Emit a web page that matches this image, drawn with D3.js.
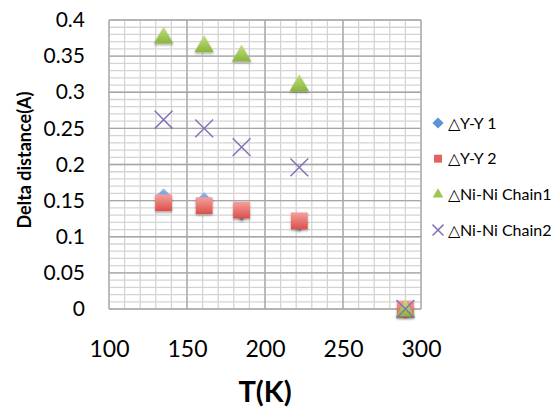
<!DOCTYPE html>
<html>
<head>
<meta charset="utf-8">
<script src="https://cdn.jsdelivr.net/npm/d3@7"></script>
<style>
	body { margin: 0; background: #fff; }
	.c-svg { width: 559px; height: 408px; }
	text { font-family: Lato, "Open Sans", sans-serif; fill: #000; }
</style>
</head>
<body>
<div class="c-svg"></div>
<script>
//DATA
//-------------------------------------------------------------------------

const seriesNames = ["\u25B3Y-Y 1", "\u25B3Y-Y 2", "\u25B3Ni-Ni Chain1", "\u25B3Ni-Ni Chain2"];
const temps = [135, 161, 185, 222, 290];
const yy1 = [0.155, 0.150, 0.134, 0.120, 0];
const yy2 = [0.147, 0.143, 0.137, 0.122, 0];
const nini1 = [0.378, 0.366, 0.353, 0.312, 0];
const nini2 = [0.262, 0.250, 0.224, 0.196, 0];
const xTicks = [100, 150, 200, 250, 300];
const yTicks = [0, 0.05, 0.1, 0.15, 0.2, 0.25, 0.3, 0.35, 0.4];

const seriesValues = [yy1, yy2, nini1, nini2];

//opts for svg
const opts = {
	container: ".c-svg",
	width: 559,
	height: 408,
	margin: { top: 20, right: 138, bottom: 99, left: 109 }
};

const innerChart = {
	width: opts.width - opts.margin.left - opts.margin.right,
	height: opts.height - opts.margin.top - opts.margin.bottom
};

const svg = d3.select(opts.container)
	.append("svg")
	.attr("width", opts.width)
	.attr("height", opts.height);

//gradients for markers
const defs = svg.append("defs");
const grads = [
	{ id: "gBlue", top: "#8db8ea", bottom: "#4f86c9" },
	{ id: "gRed", top: "#f5a09c", bottom: "#d9504b" },
	{ id: "gGreen", top: "#c2e07e", bottom: "#8ab43e" }
];
grads.forEach((gd)=>{
	const lg = defs.append("linearGradient")
		.attr("id", gd.id)
		.attr("x1", 0).attr("y1", 0).attr("x2", 0).attr("y2", 1);
	lg.append("stop").attr("offset", "0%").attr("stop-color", gd.top);
	lg.append("stop").attr("offset", "100%").attr("stop-color", gd.bottom);
});
const shadow = defs.append("filter").attr("id", "shadow")
	.attr("x", "-30%").attr("y", "-30%").attr("width", "160%").attr("height", "160%");
shadow.append("feDropShadow")
	.attr("dx", 0).attr("dy", 1.5).attr("stdDeviation", 1.2)
	.attr("flood-color", "#000").attr("flood-opacity", 0.35);

const g = svg.append("g")
	.attr("transform", `translate(${opts.margin.left} ${opts.margin.top})`);

//SCALES
//-------------------------------------------------------------------------

const x = d3.scaleLinear().domain([100, 300]).range([0, innerChart.width]);
const y = d3.scaleLinear().domain([0, 0.4]).range([innerChart.height, 0]);

//GRID
//-------------------------------------------------------------------------

const minorX = d3.range(100, 301, 10);
const minorY = d3.range(0, 41, 1).map((d)=>{ return d / 100; });

g.append("g").selectAll("line")
	.data(minorX)
	.join("line")
	.attr("x1", (d)=>{ return x(d); })
	.attr("x2", (d)=>{ return x(d); })
	.attr("y1", 0)
	.attr("y2", innerChart.height)
	.attr("stroke", "#d4d4d4")
	.attr("stroke-width", 1.3);

g.append("g").selectAll("line")
	.data(minorY)
	.join("line")
	.attr("x1", 0)
	.attr("x2", innerChart.width)
	.attr("y1", (d)=>{ return y(d); })
	.attr("y2", (d)=>{ return y(d); })
	.attr("stroke", "#d4d4d4")
	.attr("stroke-width", 1.3);

g.append("g").selectAll("line")
	.data(xTicks)
	.join("line")
	.attr("x1", (d)=>{ return x(d); })
	.attr("x2", (d)=>{ return x(d); })
	.attr("y1", 0)
	.attr("y2", innerChart.height)
	.attr("stroke", "#a6a6a6")
	.attr("stroke-width", 1.3);

g.append("g").selectAll("line")
	.data(yTicks)
	.join("line")
	.attr("x1", 0)
	.attr("x2", innerChart.width)
	.attr("y1", (d)=>{ return y(d); })
	.attr("y2", (d)=>{ return y(d); })
	.attr("stroke", "#a6a6a6")
	.attr("stroke-width", 1.3);

//AXIS
//-------------------------------------------------------------------------

const xAxis = d3.axisBottom(x).tickValues(xTicks).tickSize(0).tickPadding(31);
const yAxis = d3.axisLeft(y).tickValues(yTicks).tickSize(0).tickPadding(24)
	.tickFormat((d)=>{ return d3.format("~g")(d); });

const gx = g.append("g")
	.attr("transform", `translate(0 ${innerChart.height})`)
	.call(xAxis);
gx.select(".domain").remove();
gx.selectAll("text").style("font-size", "23px").attr("dy", "0.72em");

const gy = g.append("g").call(yAxis);
gy.select(".domain").remove();
gy.selectAll("text").style("font-size", "21px");

//titles
svg.append("text")
	.attr("x", 265)
	.attr("y", 402)
	.attr("text-anchor", "middle")
	.style("font-size", "29px")
	.style("font-weight", "bold")
	.text("T(K)");

svg.append("text")
	.attr("transform", "translate(31 160) rotate(-90)")
	.attr("text-anchor", "middle")
	.style("font-size", "18px")
	.style("font-weight", "bold")
	.text("Delta distance(A)");

//MARKERS
//-------------------------------------------------------------------------

const symbolTypes = [d3.symbolDiamond2, d3.symbolSquare2, d3.symbolTriangle2, d3.symbolX];
const symbolSizes = [180, 360, 270, 210];
const fills = ["url(#gBlue)", "url(#gRed)", "url(#gGreen)", "none"];
const strokes = ["none", "none", "none", "#8a70b8"];
const legendFills = ["#5b93d8", "#e5615c", "#9dc653", "none"];

function drawSymbol(sel, i, size) {
	sel.attr("d", d3.symbol().type(symbolTypes[i]).size(size))
		.attr("fill", fills[i])
		.attr("stroke", strokes[i])
		.attr("stroke-width", i === 3 ? 1.5 : 0);
}

seriesValues.forEach((vals, i)=>{
	const pts = temps.map((t, j)=>{ return { t: t, v: vals[j] }; });
	g.append("g")
		.selectAll("path")
		.data(pts)
		.join("path")
		.attr("transform", (d)=>{
			const dy = i === 2 ? 2 : 0;
			return `translate(${x(d.t)} ${y(d.v) + dy})`;
		})
		.attr("filter", i < 3 ? "url(#shadow)" : null)
		.call(drawSymbol, i, symbolSizes[i]);
});

//LEGEND
//-------------------------------------------------------------------------

const legend = svg.append("g").attr("transform", "translate(438 123)");
seriesNames.forEach((name, i)=>{
	const row = legend.append("g").attr("transform", `translate(0 ${i * 35.7})`);
	row.append("path")
		.call(drawSymbol, i, 80)
		.attr("fill", legendFills[i]);
	row.append("text")
		.attr("x", 10)
		.attr("y", 0)
		.attr("dy", "0.36em")
		.style("font-size", "16px")
		.text(name);
});
</script>
</body>
</html>
